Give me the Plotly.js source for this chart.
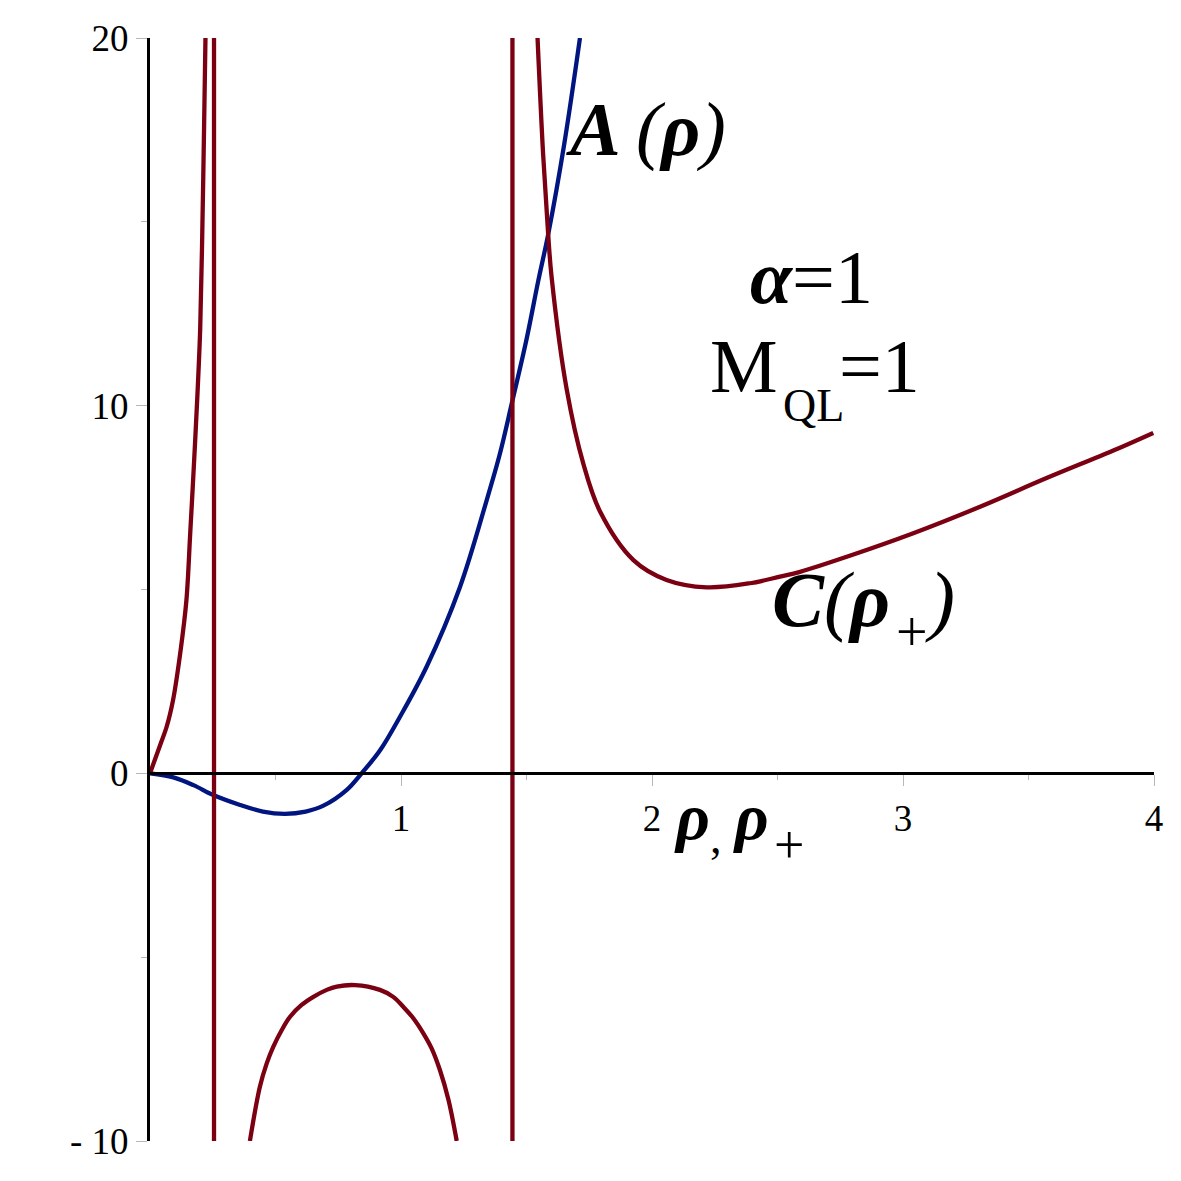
<!DOCTYPE html>
<html>
<head>
<meta charset="utf-8">
<script src="https://cdn.plot.ly/plotly-3.0.1.min.js"></script>
<style>html,body{margin:0;padding:0;background:#fff;}</style>
</head>
<body>
<div id="chart" style="width:1181px;height:1181px;"></div>
<script>
// ---- Data ----
// Blue curve A(rho)
const rhoA = [0, 0.093, 0.173, 0.252, 0.359, 0.450, 0.538, 0.620, 0.691, 0.784, 0.843, 0.916, 0.996, 1.102, 1.235, 1.341, 1.394, 1.441, 1.500, 1.547, 1.587, 1.650, 1.713];
const valA = [0, -0.11, -0.32, -0.59, -0.86, -1.04, -1.10, -1.04, -0.88, -0.45, 0, 0.62, 1.54, 2.90, 5.07, 7.42, 8.69, 10.05, 11.8, 13.4, 14.68, 17.1, 20.0];

// Red curve C(rho+), three branches
const rhoC1 = [0, 0.042, 0.066, 0.092, 0.122, 0.145, 0.160, 0.175, 0.189, 0.200, 0.208, 0.215, 0.221];
const valC1 = [0, 0.80, 1.26, 2.0, 3.35, 4.7, 6.5, 8.4, 10.3, 12.1, 14.6, 17.4, 20.0];
const rhoC2 = [0.398, 0.438, 0.465, 0.491, 0.525, 0.558, 0.604, 0.651, 0.704, 0.744, 0.817, 0.916, 0.969, 1.009, 1.049, 1.089, 1.122, 1.155, 1.189, 1.222];
const valC2 = [-10.0, -8.52, -7.89, -7.44, -6.98, -6.62, -6.30, -6.08, -5.89, -5.80, -5.76, -5.89, -6.08, -6.35, -6.66, -7.07, -7.48, -8.07, -8.88, -10.0];
const rhoC3 = [1.544, 1.566, 1.586, 1.600, 1.660, 1.726, 1.793, 1.926, 2.058, 2.218, 2.390, 2.510, 2.590, 2.776, 3.041, 3.307, 3.572, 3.838, 3.997];
const valC3 = [20.0, 16.86, 14.69, 13.50, 10.45, 8.43, 7.12, 5.80, 5.26, 5.06, 5.17, 5.35, 5.48, 5.89, 6.53, 7.25, 8.03, 8.78, 9.26];
// Vertical jump lines (discontinuities) of C
const jumpRho = [0.255, 1.444];

// Axes
const xRange = [0, 4];
const yRange = [-10, 20];
const xTickVals = [1, 2, 3, 4];
const xTickText = ['1', '2', '3', '4'];
const xMinorVals = [0.5, 1.5, 2.5, 3.5];
const yTickVals = [-10, 0, 10, 20];
const yTickText = ['- 10', '0', '10', '20'];
const yMinorVals = [-5, 5, 15];

// ---- Styles ----
const RED = '#7a0012';
const BLUE = '#00157f';
const LW = 4.3;
const SERIF = 'Liberation Serif, Times New Roman, serif';
const lineStyle = c => ({color: c, width: LW, shape: 'spline', smoothing: 1.0});

const traces = [];
traces.push({type: 'scatter', x: rhoA, y: valA, mode: 'lines', line: lineStyle(BLUE), hoverinfo: 'skip', showlegend: false});
traces.push({type: 'scatter', x: rhoC1, y: valC1, mode: 'lines', line: lineStyle(RED), hoverinfo: 'skip', showlegend: false});
traces.push({type: 'scatter', x: rhoC2, y: valC2, mode: 'lines', line: lineStyle(RED), hoverinfo: 'skip', showlegend: false});
traces.push({type: 'scatter', x: rhoC3, y: valC3, mode: 'lines', line: lineStyle(RED), hoverinfo: 'skip', showlegend: false});
jumpRho.forEach(r => {
  traces.push({type: 'scatter', x: [r, r], y: [yRange[1], yRange[0]], mode: 'lines', line: {color: RED, width: LW}, hoverinfo: 'skip', showlegend: false});
});

const zeroPos = (0 - yRange[0]) / (yRange[1] - yRange[0]);
const T = (x, y, text, size, xanchor) => ({x: x, y: y, xref: 'x', yref: 'y', showarrow: false,
  xanchor: xanchor || 'center', yanchor: 'middle', text: text, font: {family: SERIF, size: size, color: '#000'}});

const layout = {
  width: 1181, height: 1181,
  margin: {l: 150, r: 27, t: 38, b: 40},
  paper_bgcolor: '#ffffff', plot_bgcolor: '#ffffff',
  font: {family: SERIF, color: '#000', size: 37},
  showlegend: false,
  xaxis: {
    range: xRange, anchor: 'free', position: zeroPos,
    showline: true, linecolor: '#000', linewidth: 3,
    showgrid: false, zeroline: false,
    tickmode: 'array', tickvals: xTickVals, ticktext: xTickText,
    ticks: 'outside', ticklen: 11, tickcolor: '#b8b8b8', tickwidth: 1,
    tickfont: {family: SERIF, size: 37, color: '#000'},
    ticklabelstandoff: 0,
    minor: {tickmode: 'array', tickvals: xMinorVals, ticks: 'outside', ticklen: 5, tickcolor: '#b8b8b8', tickwidth: 1},
    fixedrange: true
  },
  yaxis: {
    range: yRange,
    showline: true, linecolor: '#000', linewidth: 3,
    showgrid: false, zeroline: true, zerolinecolor: '#000', zerolinewidth: 3,
    tickmode: 'array', tickvals: yTickVals, ticktext: yTickText,
    ticks: 'outside', ticklen: 11, tickcolor: '#b8b8b8', tickwidth: 1,
    tickfont: {family: SERIF, size: 37, color: '#000'},
    ticklabelstandoff: 0,
    minor: {tickmode: 'array', tickvals: yMinorVals, ticks: 'outside', ticklen: 6, tickcolor: '#b8b8b8', tickwidth: 1},
    fixedrange: true
  },
  annotations: [
    T(1.976, 17.5, '<b><i>A</i></b>\u2009<i>(</i><b><i>ρ</i></b><i>)</i>', 76),
    T(2.637, 13.5, '<b><i>α</i></b>=1', 76),
    T(2.510, 11.09, 'M', 76, 'right'),
    T(2.512, 10.0, 'QL', 46, 'left'),
    T(2.736, 11.09, '=1', 76, 'left'),
    T(2.470, 4.74, '<b><i>C</i></b><i>(</i><b><i>ρ</i></b>', 78, 'left'),
    T(3.034, 3.85, '+', 56),
    T(3.080, 4.74, '<i>)</i>', 78, 'left'),
    T(2.080, -1.3, '<b><i>ρ</i></b><sub>,</sub>\u2009<b><i>ρ</i></b>', 66, 'left'),
    T(2.544, -1.95, '+', 54)
  ]
};

Plotly.newPlot('chart', traces, layout, {staticPlot: true, displayModeBar: false});
</script>
</body>
</html>
